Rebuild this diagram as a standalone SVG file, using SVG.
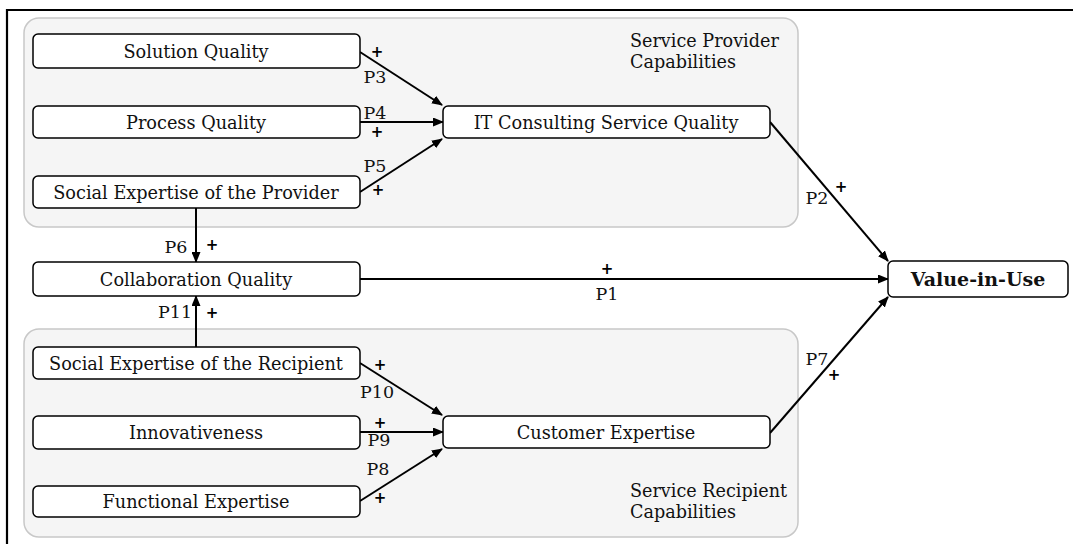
<svg xmlns="http://www.w3.org/2000/svg" width="1073" height="544" viewBox="0 0 1073 544">
  <style>
    .grp { fill: #f5f5f5; stroke: #c8c8c8; stroke-width: 1.5; }
    .box { fill: #ffffff; stroke: #000000; stroke-width: 1.5; }
    .lbl { font-family: "DejaVu Serif", "Liberation Serif", serif; font-size: 17.7px; fill: #111111; text-anchor: middle; }
    .glbl { font-family: "DejaVu Serif", "Liberation Serif", serif; font-size: 17.6px; fill: #111111; }
    .bold { font-weight: bold; font-size: 19px; }
    .edge { stroke: #000000; stroke-width: 2; fill: none; marker-end: url(#arrow); }
    .sign { font-family: "DejaVu Sans", "Liberation Sans", sans-serif; font-size: 15px; font-weight: bold; fill: #000000; text-anchor: middle; }
    .prop { font-family: "DejaVu Serif", "Liberation Serif", serif; font-size: 17.5px; fill: #111111; text-anchor: middle; }
  </style>
  <defs>
    <marker id="arrow" markerUnits="userSpaceOnUse" markerWidth="11" markerHeight="9" refX="10" refY="4.5" orient="auto">
      <path d="M0,0 L11,4.5 L0,9 z" fill="#000000"/>
    </marker>
  </defs>

  <!-- frame -->
  <path d="M7,544 L7,10 L1073,10" fill="none" stroke="#000000" stroke-width="2.2"/>

  <!-- capability areas -->
  <g id="provider-capabilities">
    <rect class="grp" x="24" y="18" width="774" height="209" rx="15"/>
    <text class="glbl" x="630" y="47">Service Provider</text>
    <text class="glbl" x="630" y="68">Capabilities</text>
  </g>
  <g id="recipient-capabilities">
    <rect class="grp" x="24" y="329" width="774" height="208" rx="15"/>
    <text class="glbl" x="630" y="497">Service Recipient</text>
    <text class="glbl" x="630" y="518">Capabilities</text>
  </g>

  <!-- connectors -->
  <g id="connectors">
    <line class="edge" x1="360" y1="52" x2="442" y2="105"/>
    <line class="edge" x1="360" y1="122" x2="443" y2="122"/>
    <line class="edge" x1="360" y1="192" x2="442" y2="139"/>
    <line class="edge" x1="770" y1="122" x2="888" y2="261"/>
    <line class="edge" x1="360" y1="279" x2="888" y2="279"/>
    <line class="edge" x1="770" y1="433" x2="888" y2="297"/>
    <line class="edge" x1="196" y1="208" x2="196" y2="262"/>
    <line class="edge" x1="196" y1="347" x2="196" y2="296"/>
    <line class="edge" x1="360" y1="363" x2="442" y2="415"/>
    <line class="edge" x1="360" y1="432" x2="443" y2="432"/>
    <line class="edge" x1="360" y1="501" x2="442" y2="449"/>

    <!-- path labels -->
    <text class="sign" x="377" y="57">+</text>
    <text class="prop" x="375" y="83">P3</text>
    <text class="prop" x="375" y="119">P4</text>
    <text class="sign" x="377" y="137">+</text>
    <text class="prop" x="375" y="172">P5</text>
    <text class="sign" x="378" y="195">+</text>
    <text class="prop" x="817" y="204">P2</text>
    <text class="sign" x="841" y="192">+</text>
    <text class="prop" x="176" y="253">P6</text>
    <text class="sign" x="212" y="250">+</text>
    <text class="prop" x="175" y="318">P11</text>
    <text class="sign" x="212" y="318">+</text>
    <text class="sign" x="607" y="274">+</text>
    <text class="prop" x="607" y="300">P1</text>
    <text class="sign" x="380" y="370">+</text>
    <text class="prop" x="377" y="398">P10</text>
    <text class="sign" x="380" y="428">+</text>
    <text class="prop" x="379" y="446">P9</text>
    <text class="prop" x="378" y="475">P8</text>
    <text class="sign" x="380" y="503">+</text>
    <text class="prop" x="817" y="365">P7</text>
    <text class="sign" x="834" y="380">+</text>
  </g>

  <!-- constructs -->
  <g id="solution-quality">
    <rect class="box" x="33" y="34" width="327" height="34" rx="5"/>
    <text class="lbl" x="196" y="58">Solution Quality</text>
  </g>
  <g id="process-quality">
    <rect class="box" x="33" y="106" width="327" height="32" rx="5"/>
    <text class="lbl" x="196" y="129">Process Quality</text>
  </g>
  <g id="social-expertise-provider">
    <rect class="box" x="33" y="176" width="327" height="32" rx="5"/>
    <text class="lbl" x="196" y="199">Social Expertise of the Provider</text>
  </g>
  <g id="it-consulting-service-quality">
    <rect class="box" x="443" y="106" width="327" height="32" rx="5"/>
    <text class="lbl" x="606" y="129">IT Consulting Service Quality</text>
  </g>
  <g id="collaboration-quality">
    <rect class="box" x="33" y="262" width="327" height="34" rx="5"/>
    <text class="lbl" x="196" y="286">Collaboration Quality</text>
  </g>
  <g id="value-in-use">
    <rect class="box" x="888" y="261" width="180" height="36" rx="5"/>
    <text class="lbl bold" x="978" y="286">Value-in-Use</text>
  </g>
  <g id="social-expertise-recipient">
    <rect class="box" x="33" y="347" width="327" height="32" rx="5"/>
    <text class="lbl" x="196" y="370">Social Expertise of the Recipient</text>
  </g>
  <g id="innovativeness">
    <rect class="box" x="33" y="416" width="327" height="33" rx="5"/>
    <text class="lbl" x="196" y="439">Innovativeness</text>
  </g>
  <g id="customer-expertise">
    <rect class="box" x="443" y="416" width="327" height="32" rx="5"/>
    <text class="lbl" x="606" y="439">Customer Expertise</text>
  </g>
  <g id="functional-expertise">
    <rect class="box" x="33" y="486" width="327" height="31" rx="5"/>
    <text class="lbl" x="196" y="508">Functional Expertise</text>
  </g>
</svg>
